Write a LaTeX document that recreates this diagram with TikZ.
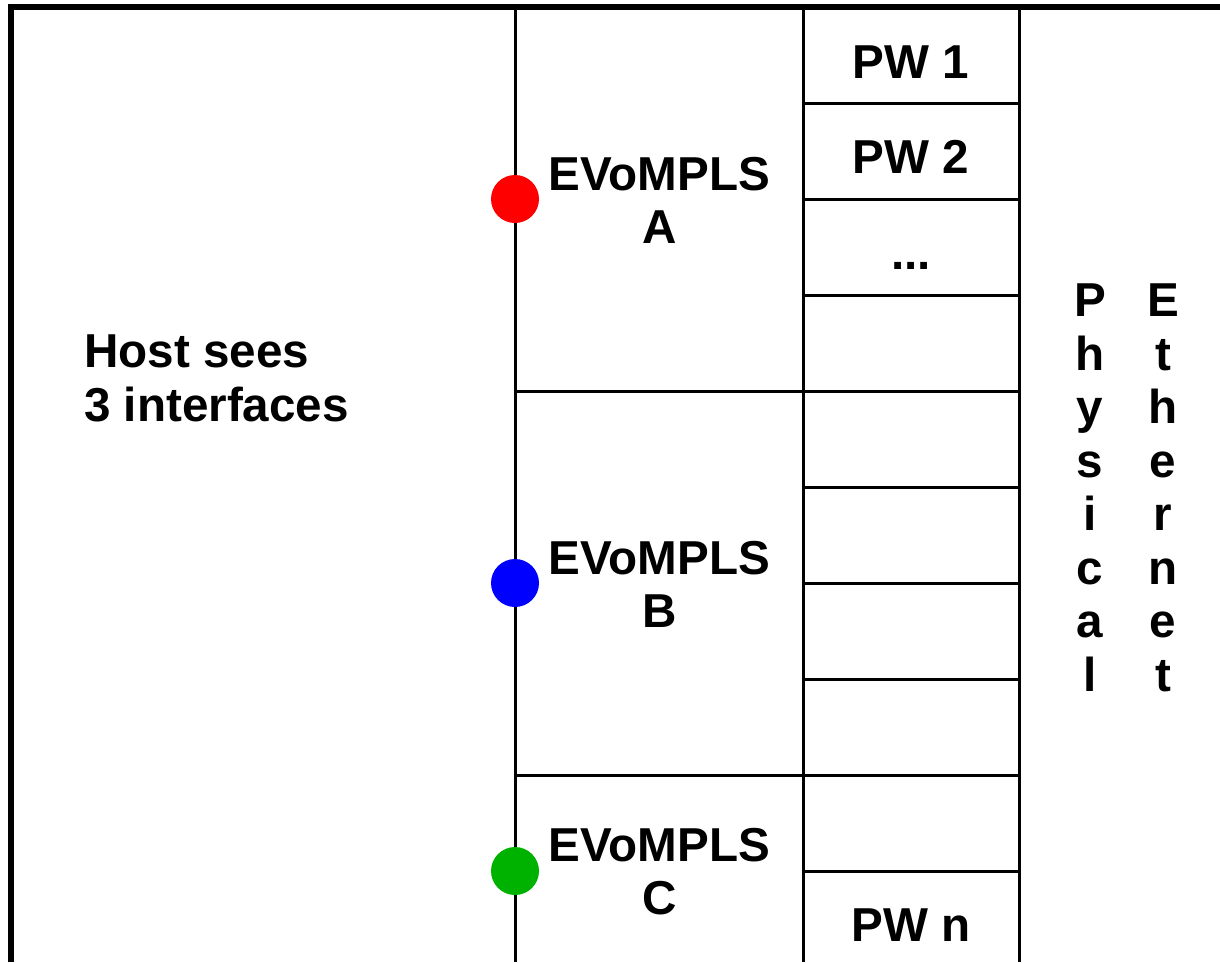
\documentclass[tikz,border=0pt]{standalone}
\usepackage{fontspec}
\setmainfont{Liberation Sans}
\begin{document}
\begin{tikzpicture}[x=1pt,y=-1pt,
  frame/.style={line width=6pt,line join=miter},
  grid/.style={line width=3pt},
  port/.style={circle,inner sep=0pt,minimum size=48pt},
  lbl/.style={inner sep=0pt,anchor=base,align=center,font=\fontsize{47.6}{53.5}\selectfont\bfseries},
  hostlbl/.style={inner sep=0pt,anchor=base west,align=left,font=\fontsize{47.6}{54}\selectfont\bfseries}]
\useasboundingbox (0,0) rectangle (1220,962);

% outer frame (top and left edges)
\draw[frame] (11,962) -- (11,7) -- (1220,7);

% column dividers
\draw[grid] (515.5,10) -- (515.5,962);
\draw[grid] (803.5,10) -- (803.5,962);
\draw[grid] (1019.5,10) -- (1019.5,962);

% EVoMPLS section boundaries
\draw[grid] (515.5,391.5) -- (803.5,391.5);
\draw[grid] (515.5,775.5) -- (803.5,775.5);

% pseudowire rows
\foreach \y in {103.5,199.5,295.5,391.5,487.5,583.5,679.5,775.5,871.5}
  \draw[grid] (803.5,\y) -- (1019.5,\y);

% host side text (anchored at the baseline of its last line)
\node[hostlbl] (host) at (84,421) {Host sees\\3 interfaces};

% interface ports
\node[port,fill={rgb,255:red,255;green,0;blue,0}] (pa) at (515,199) {};
\node[port,fill={rgb,255:red,0;green,0;blue,255}] (pb) at (515,583) {};
\node[port,fill={rgb,255:red,0;green,178;blue,0}] (pc) at (515,871) {};

% EVoMPLS labels
\node[lbl] (ea) at (659.5,243.5) {EVoMPLS\\A};
\node[lbl] (eb) at (659.5,627.5) {EVoMPLS\\B};
\node[lbl] (ec) at (659.5,914.5) {EVoMPLS\\C};

% pseudowire labels
\node[lbl] (pw1) at (911,78) {PW 1};
\node[lbl] (pw2) at (911,173) {PW 2};
\node[lbl] (pwd) at (911,269) {...};
\node[lbl] (pwn) at (911,941) {PW n};

% vertical physical Ethernet labels
\node[lbl] (phys) at (1090,691) {P\\h\\y\\s\\i\\c\\a\\l};
\node[lbl] (eth) at (1163,691) {E\\t\\h\\e\\r\\n\\e\\t};
\end{tikzpicture}
\end{document}
